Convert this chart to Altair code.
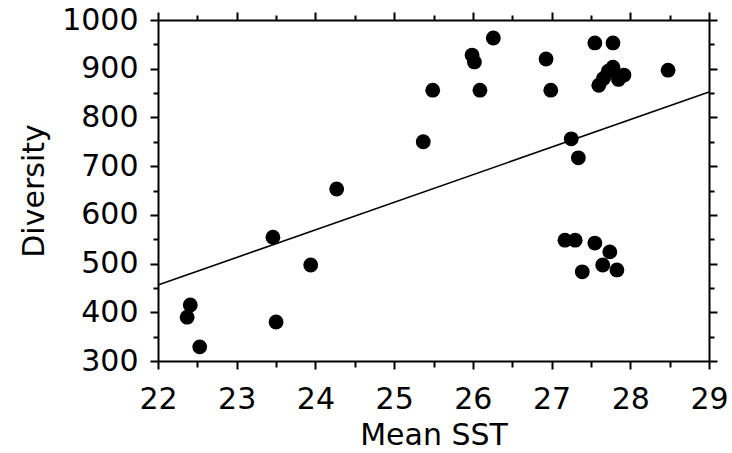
import altair as alt
import pandas as pd

# Mean SST (x) and Diversity (y)
sst = [22.41, 22.37, 22.53, 23.46, 23.50, 23.94, 24.27, 25.37, 25.49,
       25.99, 26.02, 26.09, 26.26, 26.93, 26.99, 27.25, 27.34,
       27.55, 27.78, 27.60, 27.66, 27.72, 27.78, 27.85, 27.92, 28.48,
       27.17, 27.30, 27.55, 27.74, 27.65, 27.83, 27.39]
diversity = [415, 390, 329, 554, 380, 497, 653, 750, 856,
             928, 914, 856, 963, 920, 856, 756, 717,
             953, 953, 866, 880, 895, 903, 878, 887, 897,
             548, 548, 542, 524, 497, 487, 483]

# regression line end points
fit_sst = [22, 29]
fit_div = [456, 852]

x_major = [22, 23, 24, 25, 26, 27, 28, 29]
x_minor = [22.5, 23.5, 24.5, 25.5, 26.5, 27.5, 28.5]
y_major = [300, 400, 500, 600, 700, 800, 900, 1000]
y_minor = [350, 450, 550, 650, 750, 850, 950]

pts = pd.DataFrame({"sst": sst, "div": diversity})
fit = pd.DataFrame({"sst": fit_sst, "div": fit_div})

FONT = "DejaVu Sans"
xs = alt.Scale(domain=[22, 29], nice=False, zero=False)
ys = alt.Scale(domain=[300, 1000], nice=False, zero=False)


def axis(orient, values, size, labels=False, title="", domain=True):
    kw = dict(orient=orient, values=values, tickSize=size, tickWidth=2,
              tickColor="black", grid=False, labels=labels, title=title,
              domain=domain, domainColor="black", domainWidth=2)
    if labels:
        kw.update(labelFont=FONT, labelFontSize=30, labelColor="black", format="d",
                  labelPadding=15 if orient in ("bottom", "top") else 12,
                  labelFlush=False, labelOverlap=False)
    if title:
        kw.update(titleFont=FONT, titleFontSize=30, titleFontWeight="normal",
                  titleColor="black",
                  titlePadding=6 if orient in ("bottom", "top") else 12)
    return alt.Axis(**kw)


points = alt.Chart(pts).mark_circle(size=220, color="black", opacity=1).encode(
    x=alt.X("sst:Q", scale=xs, axis=axis("bottom", x_major, 8, labels=True, title="Mean SST")),
    y=alt.Y("div:Q", scale=ys, axis=axis("left", y_major, 8, labels=True, title="Diversity")),
)

line = alt.Chart(fit).mark_line(color="black", strokeWidth=1.6).encode(
    x=alt.X("sst:Q", scale=xs, axis=axis("top", x_major, 8)),
    y=alt.Y("div:Q", scale=ys, axis=axis("right", y_major, 8)),
)

minor_a = alt.Chart(pts).mark_circle(opacity=0).encode(
    x=alt.X("sst:Q", scale=xs, axis=axis("bottom", x_minor, 6, domain=False)),
    y=alt.Y("div:Q", scale=ys, axis=axis("left", y_minor, 5, domain=False)),
)

minor_b = alt.Chart(pts).mark_circle(opacity=0).encode(
    x=alt.X("sst:Q", scale=xs, axis=axis("top", x_minor, 5, domain=False)),
    y=alt.Y("div:Q", scale=ys, axis=axis("right", y_minor, 5, domain=False)),
)

chart = alt.layer(points, line, minor_a, minor_b).resolve_axis(
    x="independent", y="independent"
).properties(
    width=551, height=341,
    autosize=alt.AutoSizeParams(type="none"),
    padding={"left": 158, "top": 20, "right": 23, "bottom": 92},
    background="white",
).configure_view(stroke=None)

chart.save("out.html", embed_options={"renderer": "svg", "actions": False})
